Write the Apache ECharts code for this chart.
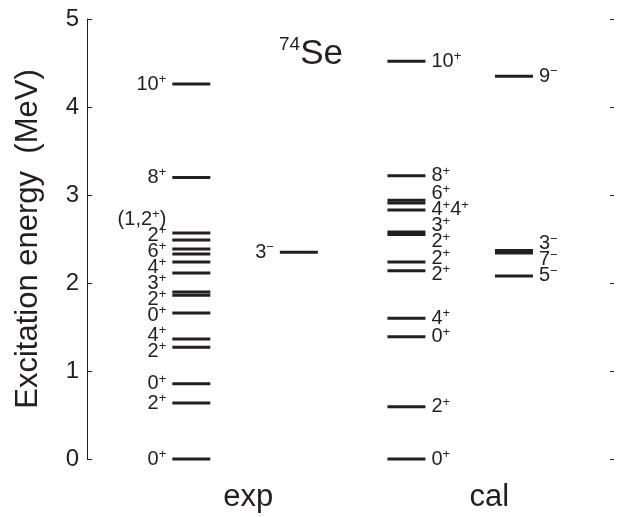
<!DOCTYPE html>
<html>
<head>
<meta charset="utf-8">
<script src="https://cdn.jsdelivr.net/npm/echarts@6/dist/echarts.min.js"></script>
<style>
  html, body { margin: 0; padding: 0; background: #fff; }
  #chart { width: 618px; height: 517px; }
</style>
</head>
<body>
<div id="chart"></div>
<script>
// Level energies (MeV) and spin-parity labels for 74Se, one pair of arrays per column.
// An empty label means the level shares a neighbour's label.
const expPosE = [0, 0.635, 0.854, 1.269, 1.363, 1.658, 1.86, 1.898, 2.114, 2.239, 2.33, 2.386, 2.489, 2.568, 3.2, 4.26];
const expPosJ = ['0+', '2+', '0+', '2+', '4+', '0+', '2+', '', '3+', '4+', '6+', '', '2+', '(1,2+)', '8+', '10+'];
const expNegE = [2.35];
const expNegJ = ['3-'];
const calPosE = [0, 0.594, 1.39, 1.60, 2.14, 2.24, 2.55, 2.58, 2.83, 2.91, 2.94, 3.22, 4.52];
const calPosJ = ['0+', '2+', '0+', '4+', '2+', '2+', '2+', '3+', '', '4+4+', '6+', '8+', '10+'];
const calNegE = [2.08, 2.34, 2.37, 4.35];
const calNegJ = ['5-', '7-', '3-', '9-'];
const groupNames = ['exp', 'cal'];
const yTickValues = [0, 1, 2, 3, 4, 5];

// ---- layout ----
const FONT = '"Liberation Sans", Arial, Helvetica, sans-serif';
const INK = '#231f20';
const GRID = { left: 87, right: 4, top: 19, bottom: 58 };
const Y_MIN = 0, Y_MAX = 5;
const PX_PER_MEV = (517 - GRID.top - GRID.bottom) / (Y_MAX - Y_MIN);
const HALF_BAR = 19;        // half length of a level line, px
const LABEL_PAD = 6;        // space between line end and its label, px
const LABEL_GAP_PX = 16;    // minimum vertical spacing of stacked labels, px
const groupLabelAt = [1.53, 3.77];

const columns = [
  { x: 1, E: expPosE, J: expPosJ, side: 'left' },
  { x: 2, E: expNegE, J: expNegJ, side: 'left' },
  { x: 3, E: calPosE, J: calPosJ, side: 'right' },
  { x: 4, E: calNegE, J: calNegJ, side: 'right' }
];

// Spread label centres (ascending) so neighbours stay at least `gap` apart,
// keeping each crowded group centred on its levels.
function spread(values, gap) {
  const blocks = [];
  values.forEach((v, i) => {
    blocks.push({ sum: v, idx: [i] });
    while (blocks.length > 1) {
      const a = blocks[blocks.length - 2], b = blocks[blocks.length - 1];
      const topA = a.sum / a.idx.length + (a.idx.length - 1) / 2 * gap;
      const botB = b.sum / b.idx.length - (b.idx.length - 1) / 2 * gap;
      if (botB - topA >= gap - 1e-9) break;
      blocks.splice(-2, 2, { sum: a.sum + b.sum, idx: a.idx.concat(b.idx) });
    }
  });
  const out = [];
  blocks.forEach(bk => {
    const n = bk.idx.length, c = bk.sum / n;
    bk.idx.forEach((i, k) => { out[i] = c + (k - (n - 1) / 2) * gap; });
  });
  return out;
}

// Spin-parity string -> rich text with the parity sign raised
function toRich(j) {
  let out = '', buf = '';
  for (const ch of j) {
    if (ch === '+' || ch === '-') {
      if (buf) { out += '{b|' + buf + '}'; buf = ''; }
      out += '{s|' + (ch === '+' ? '+' : '\u2212') + '}';
    } else {
      buf += ch;
    }
  }
  if (buf) out += '{b|' + buf + '}';
  return out;
}

const RICH = {
  b: { fontFamily: FONT, fontSize: 20, lineHeight: 22, color: INK },
  s: { fontFamily: FONT, fontSize: 13, lineHeight: 4, verticalAlign: 'top', color: INK }
};

// level lines: [x, E]
const levelData = [];
columns.forEach(col => col.E.forEach(e => levelData.push([col.x, e])));

// labels: [x, label centre E, column index, level index]
const labelData = [];
const gapMeV = LABEL_GAP_PX / PX_PER_MEV;
columns.forEach((col, ci) => {
  const idx = col.E.map((e, i) => i).filter(i => col.J[i] !== '').sort((a, b) => col.E[a] - col.E[b]);
  const pos = spread(idx.map(i => col.E[i]), gapMeV);
  idx.forEach((li, k) => labelData.push([col.x, pos[k], ci, li]));
});

const chart = echarts.init(document.getElementById('chart'), null, { renderer: 'canvas' });
chart.setOption({
  animation: false,
  backgroundColor: '#fff',
  title: {
    text: '{a|74}{b|Se}',
    left: 274, top: 30,
    textStyle: {
      fontWeight: 'normal',
      rich: {
        a: { fontFamily: FONT, fontSize: 19, fontWeight: 'normal', color: INK, lineHeight: 14, verticalAlign: 'top' },
        b: { fontFamily: FONT, fontSize: 35, fontWeight: 'normal', color: INK, lineHeight: 38 }
      }
    }
  },
  grid: { left: GRID.left, right: GRID.right, top: GRID.top, bottom: GRID.bottom, containLabel: false },
  xAxis: {
    type: 'value', min: 0.03, max: 4.93,
    axisLine: { show: false }, axisTick: { show: false }, splitLine: { show: false },
    axisLabel: {
      customValues: groupLabelAt,
      formatter: v => groupNames[groupLabelAt.indexOf(v)] || '',
      fontFamily: FONT, fontSize: 31, color: INK, margin: 23
    }
  },
  yAxis: [{
    type: 'value', min: Y_MIN, max: Y_MAX, interval: 1,
    name: 'Excitation energy  (MeV)', nameLocation: 'middle', nameGap: 43,
    nameTextStyle: { fontFamily: FONT, fontSize: 31, color: INK },
    axisLine: { show: true, lineStyle: { color: INK, width: 1 } },
    axisTick: { show: true, inside: true, length: 5, lineStyle: { color: INK } },
    axisLabel: { fontFamily: FONT, fontSize: 24, color: INK, margin: 8,
      formatter: v => yTickValues.includes(v) ? String(v) : '' },
    splitLine: { show: false }
  }, {
    type: 'value', min: Y_MIN, max: Y_MAX, interval: 1, position: 'right',
    axisLine: { show: false },
    axisTick: { show: true, inside: true, length: 4, lineStyle: { color: INK } },
    axisLabel: { show: false }, splitLine: { show: false }
  }],
  series: [{
    type: 'custom',
    name: 'levels',
    xAxisIndex: 0, yAxisIndex: 0,
    data: levelData,
    renderItem: (params, api) => {
      const p = api.coord([api.value(0), api.value(1)]);
      return {
        type: 'line',
        shape: { x1: p[0] - HALF_BAR, y1: p[1], x2: p[0] + HALF_BAR, y2: p[1] },
        style: { stroke: INK, lineWidth: 3 }
      };
    }
  }, {
    type: 'custom',
    name: 'labels',
    xAxisIndex: 0, yAxisIndex: 0,
    data: labelData,
    renderItem: (params, api) => {
      const col = columns[api.value(2)];
      const p = api.coord([api.value(0), api.value(1)]);
      const left = col.side === 'left';
      return {
        type: 'text',
        x: p[0] + (left ? -(HALF_BAR + LABEL_PAD) : HALF_BAR + LABEL_PAD),
        y: p[1],
        style: {
          text: toRich(col.J[api.value(3)]),
          rich: RICH,
          align: left ? 'right' : 'left',
          verticalAlign: 'middle',
          fill: INK
        }
      };
    }
  }]
});
</script>
</body>
</html>
